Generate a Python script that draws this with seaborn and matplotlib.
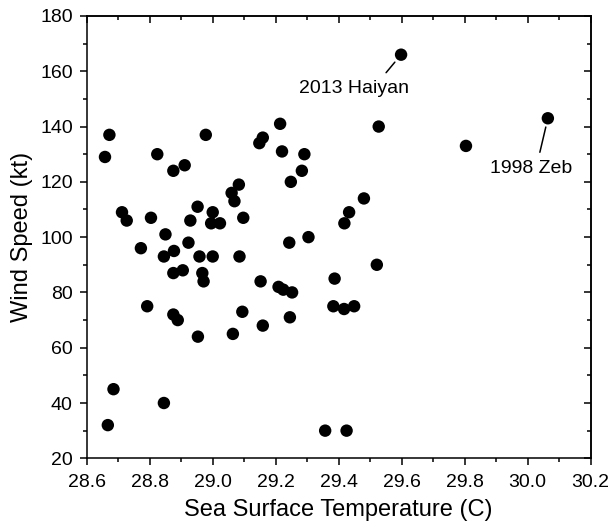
import numpy as np
import pandas as pd
import matplotlib
matplotlib.use("Agg")
import matplotlib.pyplot as plt
import seaborn as sns
from matplotlib.ticker import MultipleLocator, FormatStrFormatter

# Data
sst = [28.672, 28.658, 28.824, 28.875, 28.911, 28.978, 28.712, 28.727, 28.804, 28.850,
       28.952, 29.000, 28.995, 29.023, 28.929, 29.060, 29.069, 29.083, 29.097, 28.923,
       28.772, 28.877, 28.845, 28.958, 29.000, 29.085, 28.875, 28.905, 28.967, 28.971,
       28.792, 28.875, 28.889, 28.953, 29.064, 29.094, 29.152, 29.159, 29.148, 29.159,
       29.214, 29.220, 29.291, 29.283, 29.248, 29.527, 29.480, 29.433, 29.418, 29.243,
       29.304, 29.521, 29.387, 29.209, 29.224, 29.252, 29.383, 29.417, 29.449, 29.245,
       28.685, 28.667, 28.845, 29.357, 29.425, 29.598, 29.804, 30.064]
wind = [137, 129, 130, 124, 126, 137, 109, 106, 107, 101,
        111, 109, 105, 105, 106, 116, 113, 119, 107, 98,
        96, 95, 93, 93, 93, 93, 87, 88, 87, 84,
        75, 72, 70, 64, 65, 73, 84, 68, 134, 136,
        141, 131, 130, 124, 120, 140, 114, 109, 105, 98,
        100, 90, 85, 82, 81, 80, 75, 74, 75, 71,
        45, 32, 40, 30, 30, 166, 133, 143]

label_names = ["2013 Haiyan", "1998 Zeb"]
label_sst = [29.598, 30.064]
label_wind = [166, 143]

df = pd.DataFrame({"SST": sst, "Wind": wind})

sns.set_style("ticks")
plt.rcParams["font.family"] = ["Liberation Sans", "DejaVu Sans"]
plt.rcParams["text.color"] = "black"
plt.rcParams["axes.labelcolor"] = "black"
plt.rcParams["xtick.color"] = "black"
plt.rcParams["ytick.color"] = "black"
plt.rcParams["axes.edgecolor"] = "black"

fig = plt.figure(figsize=(6.12, 5.24), dpi=100)
ax = fig.add_axes([0.1417, 0.1254, 0.8235, 0.8441])

sns.scatterplot(data=df, x="SST", y="Wind", ax=ax, color="black", s=80,
                edgecolor="none", linewidth=0, legend=False)

ax.set_xlim(28.6, 30.2)
ax.set_ylim(20, 180)
ax.xaxis.set_major_locator(MultipleLocator(0.2))
ax.xaxis.set_minor_locator(MultipleLocator(0.1))
ax.xaxis.set_major_formatter(FormatStrFormatter("%.1f"))
ax.yaxis.set_major_locator(MultipleLocator(20))
ax.yaxis.set_minor_locator(MultipleLocator(10))

for sp in ax.spines.values():
    sp.set_linewidth(1.1)
    sp.set_color("black")
    sp.set_visible(True)

ax.tick_params(which="major", direction="out", length=5, width=1.1, labelsize=14,
               color="black", labelcolor="black")
ax.tick_params(axis="x", which="major", pad=6)
ax.tick_params(axis="y", which="major", pad=5)
ax.tick_params(which="minor", direction="out", length=3, width=1.1, color="black")

ax.set_xlabel("Sea Surface Temperature (C)", fontsize=17, labelpad=6, color="black")
ax.set_ylabel("Wind Speed (kt)", fontsize=17, labelpad=5, color="black")

# mirrored inward ticks on top and right
top = ax.secondary_xaxis("top")
top.xaxis.set_major_locator(MultipleLocator(0.2))
top.xaxis.set_minor_locator(MultipleLocator(0.1))
top.tick_params(which="major", direction="in", length=5, width=1.1, labeltop=False)
top.tick_params(which="minor", direction="in", length=3, width=1.1)
top.spines["top"].set_linewidth(1.1)
right = ax.secondary_yaxis("right")
right.yaxis.set_major_locator(MultipleLocator(20))
right.yaxis.set_minor_locator(MultipleLocator(10))
right.tick_params(which="major", direction="in", length=5, width=1.1, labelright=False)
right.tick_params(which="minor", direction="in", length=3, width=1.1)
right.spines["right"].set_linewidth(1.1)

# annotations
line_end = [(-15, -18), (-8, -34)]
text_off = [(-47, -34), (-17, -50)]
gaps = [7.0, 6.5]
for name, x, y, le, to, g in zip(label_names, label_sst, label_wind, line_end, text_off, gaps):
    ax.annotate("", xy=(x, y), xytext=le, textcoords="offset pixels",
                arrowprops=dict(arrowstyle="-", color="black", lw=1.1,
                                shrinkA=0, shrinkB=g))
    ax.annotate(name, xy=(x, y), xytext=to, textcoords="offset pixels",
                ha="center", va="center", fontsize=14, color="black")

fig.savefig("out.png", dpi=100)
